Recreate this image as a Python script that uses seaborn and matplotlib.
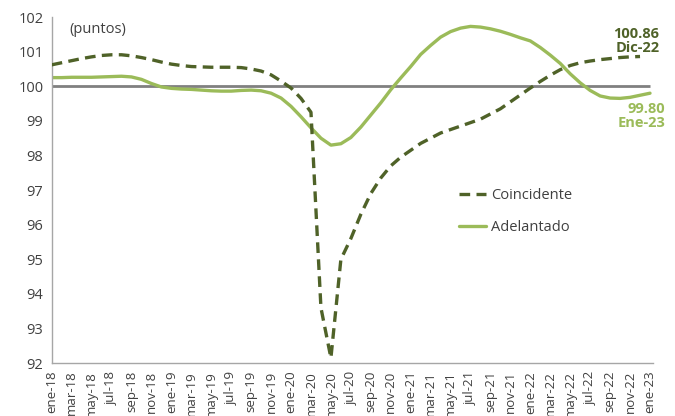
import matplotlib
matplotlib.use("Agg")
import matplotlib.pyplot as plt
import seaborn as sns
import numpy as np
import pandas as pd

# ---- data ----
month_abbr = ["ene", "feb", "mar", "abr", "may", "jun", "jul", "ago", "sep", "oct", "nov", "dic"]
years = ["18", "19", "20", "21", "22", "23"]
periods = [f"{m}-{y}" for y in years for m in month_abbr][:61]  # ene-18 .. ene-23

coincidente = [100.62, 100.68, 100.74, 100.80, 100.85, 100.89, 100.91, 100.91, 100.88, 100.83,
               100.77, 100.70, 100.64, 100.60, 100.57, 100.56, 100.55, 100.55, 100.55, 100.54,
               100.50, 100.44, 100.33, 100.15, 99.95, 99.65, 99.25, 93.60, 92.15, 95.00,
               95.60, 96.30, 96.90, 97.35, 97.70, 97.95, 98.15, 98.35, 98.50, 98.65,
               98.75, 98.85, 98.95, 99.05, 99.20, 99.35, 99.55, 99.75, 99.95, 100.14,
               100.32, 100.48, 100.60, 100.68, 100.73, 100.77, 100.80, 100.83, 100.85, 100.86]

adelantado = [100.25, 100.25, 100.26, 100.26, 100.26, 100.27, 100.28, 100.29, 100.27, 100.20,
              100.08, 99.98, 99.94, 99.92, 99.91, 99.89, 99.87, 99.86, 99.86, 99.88,
              99.89, 99.87, 99.80, 99.66, 99.42, 99.12, 98.80, 98.50, 98.30, 98.34,
              98.52, 98.82, 99.17, 99.52, 99.90, 100.24, 100.57, 100.92, 101.18, 101.42,
              101.58, 101.68, 101.73, 101.71, 101.66, 101.59, 101.50, 101.40, 101.31, 101.12,
              100.90, 100.66, 100.36, 100.10, 99.88, 99.72, 99.66, 99.65, 99.68, 99.74,
              99.80]

tick_labels = periods[::2]
yticks = list(range(92, 103))
reference_level = 100
label_coinc = "100.86\nDic-22"
label_adel = "99.80\nEne-23"

# ---- plot ----
sns.set_style("white")
plt.rcParams["font.family"] = ["Open Sans", "DejaVu Sans"]

dark = "#4F6228"
light = "#9BBB59"
txt = "#404040"

fig = plt.figure(figsize=(6.75, 4.16), dpi=100)
ax = fig.add_axes([0.0766, 0.127, 0.8908, 0.832])

idx_c = np.arange(len(coincidente))
idx_a = np.arange(len(adelantado))

ax.hlines(reference_level, 0, len(adelantado) - 1, color="#808080", lw=2.0, zorder=1)

sns.lineplot(x=idx_c, y=coincidente, ax=ax, color=dark, lw=2.4, label="Coincidente", zorder=3)
ax.lines[-1].set_dashes((3.2, 1.9))
sns.lineplot(x=idx_a, y=adelantado, ax=ax, color=light, lw=2.4, label="Adelantado", zorder=2)

ax.set_xlim(0, 60.3)
ax.set_ylim(92, 102)
ax.set_yticks(yticks)
ax.set_yticklabels([str(v) for v in yticks], fontsize=10.5, color=txt)
ax.set_xticks(np.arange(0, len(periods), 2))
ax.set_xticklabels(tick_labels, rotation=90, fontsize=9.5, color=txt)

for s in ["top", "right"]:
    ax.spines[s].set_visible(False)
for s in ["left", "bottom"]:
    ax.spines[s].set_color("#A6A6A6")
    ax.spines[s].set_linewidth(1.0)
ax.tick_params(axis="both", direction="out", length=4, width=1, color="#A6A6A6", pad=2)
ax.tick_params(axis="x", pad=1.5)
ax.set_xlabel("")
ax.set_ylabel("")

ax.text(0.03, 0.985, "(puntos)", transform=ax.transAxes, fontsize=10.5, color=txt,
        ha="left", va="top")

ax.annotate(label_coinc, xy=(idx_c[-1], coincidente[-1]), xytext=(14, 1),
            textcoords="offset points", ha="right", va="bottom", fontsize=10.5,
            fontweight="bold", color=dark, linespacing=1.05)
ax.annotate(label_adel, xy=(idx_a[-1], adelantado[-1]), xytext=(11, -6),
            textcoords="offset points", ha="right", va="top", fontsize=10.5,
            fontweight="bold", color=light, linespacing=1.05)

leg = ax.legend(loc="upper left", bbox_to_anchor=(0.677, 0.506), frameon=False,
                fontsize=10.5, handlelength=1.9, handletextpad=0.3, labelspacing=1.15,
                borderpad=0, borderaxespad=0)
for t in leg.get_texts():
    t.set_color(txt)

fig.savefig("out.png", dpi=100)
